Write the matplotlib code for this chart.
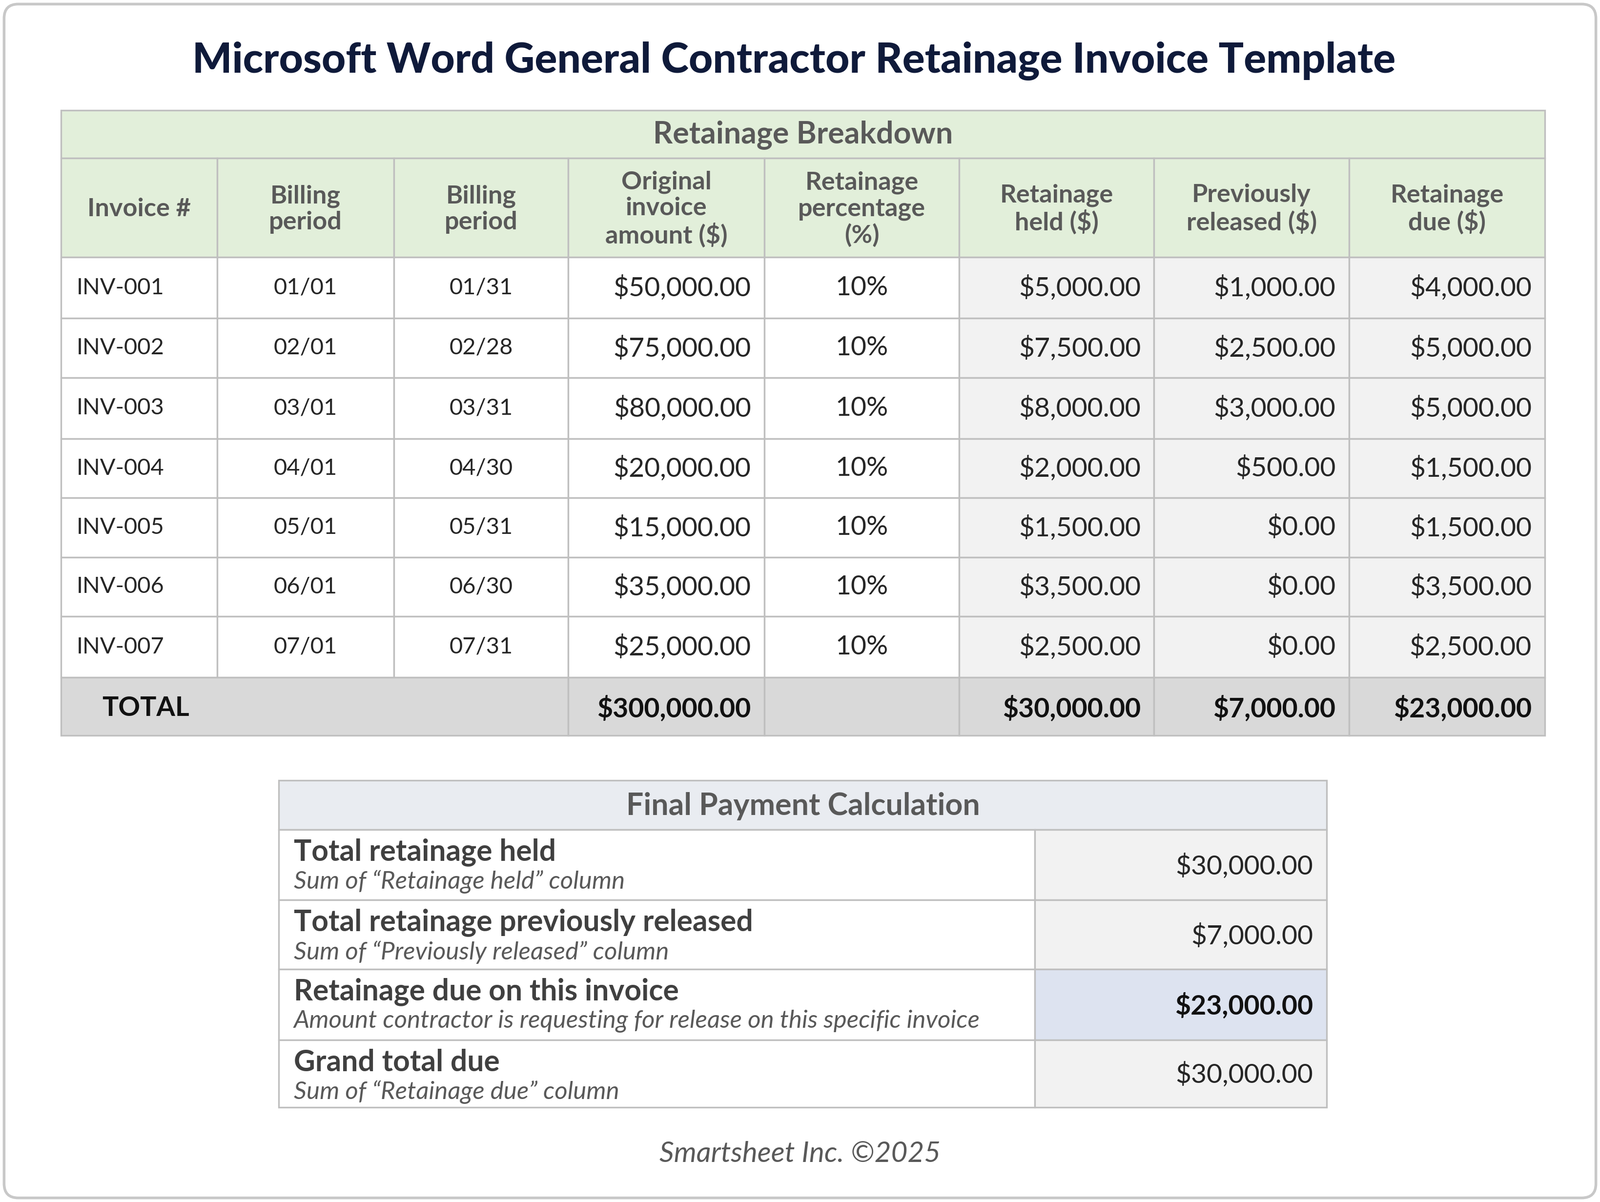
import matplotlib
matplotlib.use("Agg")
import matplotlib.pyplot as plt
from matplotlib.patches import Rectangle, FancyBboxPatch

W, H = 1568, 1178
S = 0.752  # pt per display px
FONT = "Lato"

invoices = ["INV-001", "INV-002", "INV-003", "INV-004", "INV-005", "INV-006", "INV-007"]
period_start = ["01/01", "02/01", "03/01", "04/01", "05/01", "06/01", "07/01"]
period_end = ["01/31", "02/28", "03/31", "04/30", "05/31", "06/30", "07/31"]
original = [50000, 75000, 80000, 20000, 15000, 35000, 25000]
pct = [10, 10, 10, 10, 10, 10, 10]
held = [5000, 7500, 8000, 2000, 1500, 3500, 2500]
released = [1000, 2500, 3000, 500, 0, 0, 0]
due = [4000, 5000, 5000, 1500, 1500, 3500, 2500]
totals = {"original": 300000, "held": 30000, "released": 7000, "due": 23000}
headers = ["Invoice #", "Billing\nperiod", "Billing\nperiod", "Original\ninvoice\namount ($)",
           "Retainage\npercentage\n(%)", "Retainage\nheld ($)", "Previously\nreleased ($)", "Retainage\ndue ($)"]
final_labels = ["Total retainage held", "Total retainage previously released",
                "Retainage due on this invoice", "Grand total due"]
final_sub = ["Sum of \u201cRetainage held\u201d column", "Sum of \u201cPreviously released\u201d column",
             "Amount contractor is requesting for release on this specific invoice",
             "Sum of \u201cRetainage due\u201d column"]
final_values = [30000, 7000, 23000, 30000]

def money(v):
    return "${:,.2f}".format(v)

fig = plt.figure(figsize=(3278/200, 2463/200), dpi=200)
ax = fig.add_axes([0, 0, 1, 1])
ax.set_xlim(0, W); ax.set_ylim(H, 0); ax.axis("off")

ax.add_patch(FancyBboxPatch((4, 4), W-8, H-8, boxstyle="round,pad=0,rounding_size=14",
                            fc="white", ec="#c8c8c8", lw=2))
ax.text(778, 60, "Microsoft Word General Contractor Retainage Invoice Template", ha="center", va="center",
        fontsize=41*S, fontweight="heavy", color="#0f1a3a", family=FONT)

BORDER = "#bfbfbf"
def cell(x0, y0, x1, y1, fc):
    ax.add_patch(Rectangle((x0, y0), x1-x0, y1-y0, fc=fc, ec=BORDER, lw=1.2))

cols = [60, 213, 386, 557, 749, 940, 1131, 1322, 1514]
rows = [252, 312, 370, 430, 488, 546, 604, 664]
GREEN = "#e2efda"
HC = "#595959"; DC = "#262626"
fs_h = 25*S; fs_d = 26.5*S

cell(60, 108, 1514, 155, GREEN)
ax.text(787, 132, "Retainage Breakdown", ha="center", va="center", fontsize=fs_h*1.2, fontweight="bold", color=HC, family=FONT)
for i, h in enumerate(headers):
    cell(cols[i], 155, cols[i+1], 252, GREEN)
    ax.text((cols[i]+cols[i+1])/2, 205, h, ha="center", va="center", fontsize=fs_h, fontweight="bold",
            color=HC, family=FONT, linespacing=1.15)

for r in range(len(invoices)):
    y0, y1 = rows[r], rows[r+1]; yc = (y0+y1)/2
    for c in range(8):
        cell(cols[c], y0, cols[c+1], y1, "#f2f2f2" if c >= 5 else "white")
    ax.text(75, yc, invoices[r], ha="left", va="center", fontsize=fs_d*0.85, color=DC, family=FONT)
    ax.text((cols[1]+cols[2])/2, yc, period_start[r], ha="center", va="center", fontsize=fs_d*0.85, color=DC, family=FONT)
    ax.text((cols[2]+cols[3])/2, yc, period_end[r], ha="center", va="center", fontsize=fs_d*0.85, color=DC, family=FONT)
    ax.text(cols[4]-13, yc, money(original[r]), ha="right", va="center", fontsize=fs_d, color=DC, family=FONT)
    ax.text((cols[4]+cols[5])/2, yc, f"{pct[r]}%", ha="center", va="center", fontsize=fs_d, color=DC, family=FONT)
    for c, arr in zip([6, 7, 8], [held, released, due]):
        ax.text(cols[c]-13, yc, money(arr[r]), ha="right", va="center", fontsize=fs_d, color=DC, family=FONT)

TG = "#d9d9d9"
cell(60, 664, 557, 721, TG)
for c in range(3, 8):
    cell(cols[c], 664, cols[c+1], 721, TG)
ax.text(100, 694, "TOTAL", ha="left", va="center", fontsize=fs_d, fontweight="bold", color="#111111", family=FONT)
for c, k in zip([4, 6, 7, 8], ["original", "held", "released", "due"]):
    ax.text(cols[c]-13, 694, money(totals[k]), ha="right", va="center", fontsize=fs_d, fontweight="bold",
            color="#111111", family=FONT)

fr = [813, 882, 950, 1019, 1085]
cell(273, 765, 1300, 813, "#e9ecf1")
ax.text(787, 790, "Final Payment Calculation", ha="center", va="center", fontsize=fs_h*1.2, fontweight="bold", color=HC, family=FONT)
for i in range(4):
    y0, y1 = fr[i], fr[i+1]
    cell(273, y0, 1014, y1, "white")
    cell(1014, y0, 1300, y1, "#dde3f0" if i == 2 else "#f2f2f2")
    ax.text(288, y0+22, final_labels[i], ha="left", va="center", fontsize=29*S, fontweight="bold", color="#404040", family=FONT)
    ax.text(288, y0+51, final_sub[i], ha="left", va="center", fontsize=24.5*S, style="italic", color="#595959", family=FONT)
    ax.text(1287, (y0+y1)/2+1, money(final_values[i]), ha="right", va="center", fontsize=fs_d,
            fontweight="bold" if i == 2 else "normal", color="#111111" if i == 2 else DC, family=FONT)

ax.text(784, 1131, "Smartsheet Inc. \u00a92025", ha="center", va="center", fontsize=28*S, style="italic",
        color="#595959", family=FONT)

fig.savefig("out.png", dpi=200)
